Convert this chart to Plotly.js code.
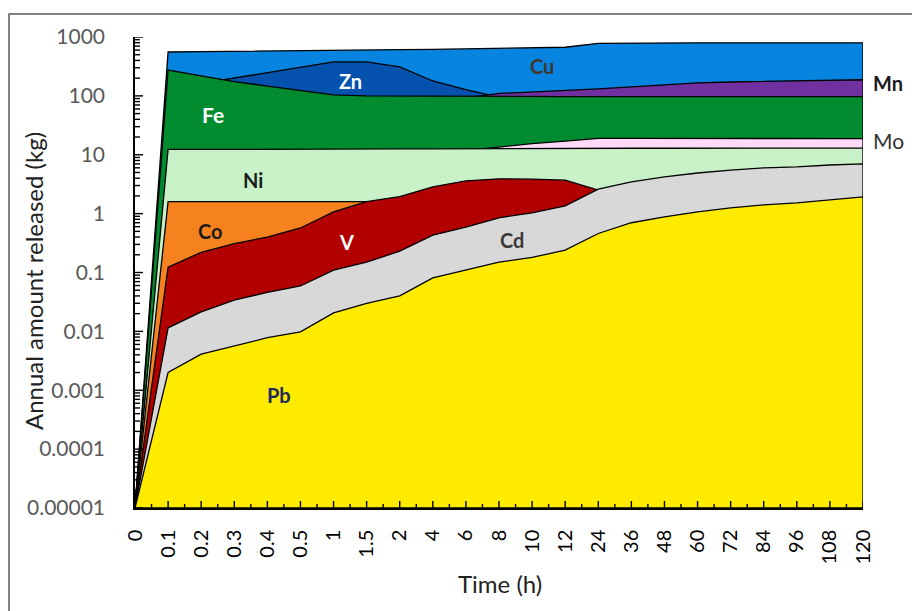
<!DOCTYPE html>
<html>
<head>
<meta charset="utf-8">
<script src="https://cdn.plot.ly/plotly-3.0.1.min.js"></script>
<style>html,body{margin:0;padding:0;background:#fff;}#chart{width:912px;height:611px;}</style>
</head>
<body>
<div id="chart"></div>
<script>
// ---- data ----
var timeLabels = ['0','0.1','0.2','0.3','0.4','0.5','1','1.5','2','4','6','8','10','12','24','36','48','60','72','84','96','108','120'];
var baseFloor = 0.00001;
var Cu = [0.00001,556,565,575,585,595,600,605,610,615,625,640,655,670,780,790,795,795,795,795,795,795,795];
var Zn = [0.00001,120,163,201,248,305,377,377,310,179,128,95,90,90,90,90,90,90,90,90,90,90,90];
var Mn = [0.00001,60,65,70,72,75,80,82,85,88,92,110,116,124,131,142,154,166,172,176,180,184,188];
var Fe = [0.00001,275,218,175,147,124,104,100,99,99,98,98,97,97,97,97,97,97,97,97,97,97,97];
var Mo = [0.00001,8,9,9.5,10,10,10.5,11,11.2,11.5,11.8,13.5,15.5,17,19,19,19,19,19,19,19,19,18.8];
var Ni = [0.00001,12.3,12.3,12.4,12.4,12.5,12.5,12.5,12.6,12.6,12.7,12.7,12.8,12.8,12.9,12.9,12.9,13,13,13,13,13,13];
var Co = [0.00001,1.6,1.6,1.6,1.6,1.6,1.6,1.6,1.6,1.6,1.6,1.6,1.6,1.6,1.6,1.6,1.6,1.6,1.6,1.6,1.6,1.6,1.6];
var V  = [0.00001,0.123,0.22,0.31,0.40,0.57,1.07,1.6,1.95,2.85,3.6,3.9,3.85,3.7,2.5,2.4,2.4,2.4,2.4,2.4,2.4,2.4,2.4];
var Cd = [0.00001,0.0115,0.0214,0.034,0.046,0.059,0.11,0.15,0.23,0.43,0.59,0.85,1.03,1.35,2.6,3.45,4.2,4.9,5.5,6.0,6.2,6.7,7.0];
var Pb = [0.00001,0.002,0.0041,0.0057,0.0078,0.0098,0.0206,0.030,0.040,0.081,0.11,0.15,0.18,0.24,0.46,0.70,0.88,1.07,1.25,1.41,1.52,1.71,1.92];
var yTickVals = [0.00001,0.0001,0.001,0.01,0.1,1,10,100,1000];
var yTickText = ['0.00001','0.0001','0.001','0.01','0.1','1','10','100','1000'];

var seriesNames = ['Cu','Zn','Mn','Fe','Mo','Ni','Co','V','Cd','Pb'];
var seriesData  = [Cu, Zn, Mn, Fe, Mo, Ni, Co, V, Cd, Pb];
var seriesColors = ['#0784DF','#0451AE','#7030A0','#008C2E','#FFD9F6','#C8F1C8','#F5821F','#B20000','#D8D8D8','#FFEB00'];

// ---- geometry of the plot area ----
var W = 912, H = 611, ML = 135, MR = 49, MT = 37, MB = 103;
var plotW = W - ML - MR, plotH = H - MT - MB;
var nCat = timeLabels.length;
var pxPerCat = plotW / (nCat - 1);
var pxPerDecade = plotH / 8;

// ---- build area traces ----
var idx = timeLabels.map(function(_, i){ return i; });
var idxRev = idx.slice().reverse();
var floorArr = idx.map(function(){ return baseFloor; });

var traces = seriesData.map(function(vals, k){
  return {
    type: 'scatter', mode: 'lines', name: seriesNames[k],
    x: idx.concat(idxRev),
    y: vals.concat(floorArr),
    fill: 'toself', fillcolor: seriesColors[k],
    line: {color: '#000', width: 1.3},
    hoverinfo: 'skip', showlegend: false
  };
});

// ---- tick marks drawn on top of the filled areas (inside ticks) ----
var tx = [], ty = [];
function seg(x0, y0, x1, y1){ tx.push(x0, x1, null); ty.push(y0, y1, null); }
var xMajorLen = Math.pow(10, 7 / pxPerDecade), xMinorLen = Math.pow(10, 4 / pxPerDecade);
idx.forEach(function(i){
  seg(i, baseFloor, i, baseFloor * xMajorLen);
  if (i < nCat - 1) seg(i + 0.5, baseFloor, i + 0.5, baseFloor * xMinorLen);
});
yTickVals.forEach(function(v, j){
  seg(0, v, 8 / pxPerCat, v);
  if (j < yTickVals.length - 1) {
    for (var d = 2; d <= 9; d++) seg(0, v * d, 5 / pxPerCat, v * d);
  }
});
traces.push({type: 'scatter', mode: 'lines', x: tx, y: ty, connectgaps: false,
  line: {color: '#000', width: 1.4, simplify: false}, hoverinfo: 'skip', showlegend: false});

function px(x){ return (x - ML) / plotW; }
function py(y){ return (H - MB - y) / plotH; }

var FONT = 'Lato, "Open Sans", sans-serif';
function lab(text, x, y, color, bold, size){
  return {text: bold ? '<b>' + text + '</b>' : text, xref: 'paper', yref: 'paper', x: px(x), y: py(y),
    xanchor: 'center', yanchor: 'middle', showarrow: false,
    font: {family: FONT, size: size || 20, color: color}};
}

var layout = {
  width: W, height: H,
  margin: {l: ML, r: MR, t: MT, b: MB},
  paper_bgcolor: '#fff', plot_bgcolor: 'rgba(0,0,0,0)',
  font: {family: FONT},
  xaxis: {
    type: 'linear', range: [0, nCat - 1],
    tickmode: 'array', tickvals: idx, ticktext: timeLabels,
    tickangle: -90, ticks: '',
    showline: true, linecolor: '#000', linewidth: 1.5,
    showgrid: false, zeroline: false,
    tickfont: {family: FONT, size: 20, color: '#000'},
    ticklabelstandoff: 12
  },
  yaxis: {
    type: 'log', range: [-5, 3],
    tickmode: 'array', tickvals: yTickVals, ticktext: yTickText,
    ticks: '',
    showline: true, linecolor: '#000', linewidth: 1.5,
    showgrid: false, zeroline: false,
    tickfont: {family: FONT, size: 21, color: '#595959'},
    ticklabelstandoff: 24
  },
  shapes: [{type: 'rect', xref: 'paper', yref: 'paper', x0: px(9), x1: px(930), y0: py(14), y1: py(630),
    line: {color: '#595959', width: 1.5}, fillcolor: 'rgba(0,0,0,0)', layer: 'below'}],
  annotations: [
    lab('Cu', 542, 66, '#40372f', true),
    lab('Zn', 350, 81, '#ffffff', true),
    lab('Fe', 213, 115, '#ffffff', true, 21),
    lab('Ni', 253, 180, '#1a1a1a', true),
    lab('Co', 210, 231, '#1a1a1a', true),
    lab('V', 346, 242, '#ffffff', true),
    lab('Cd', 512, 240, '#3a3a3a', true),
    lab('Pb', 279, 395, '#1f2a5c', true),
    lab('Mn', 888, 83, '#1a1a1a', true),
    lab('Mo', 888, 141, '#333333', false, 21),
    {text: 'Time (h)', xref: 'paper', yref: 'paper', x: px(500), y: py(583), xanchor: 'center', yanchor: 'middle',
      showarrow: false, font: {family: FONT, size: 24, color: '#222'}},
    {text: 'Annual amount released (kg)', xref: 'paper', yref: 'paper', x: px(33), y: py(281), xanchor: 'center', yanchor: 'middle',
      textangle: -90, showarrow: false, font: {family: FONT, size: 24, color: '#222'}}
  ]
};

Plotly.newPlot('chart', traces, layout, {displayModeBar: false});
</script>
</body>
</html>
